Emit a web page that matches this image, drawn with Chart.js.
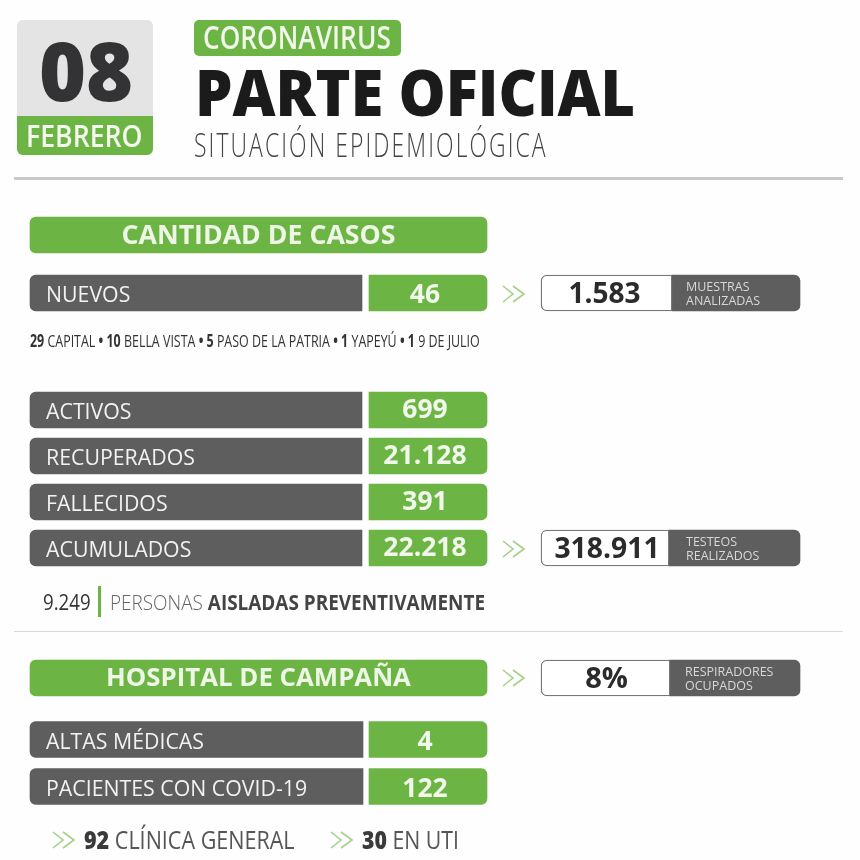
<!DOCTYPE html>
<html>
<head>
<meta charset="utf-8">
<script src="https://cdn.jsdelivr.net/npm/chart.js@4/dist/chart.umd.min.js"></script>
<style>
html,body{margin:0;padding:0;background:#fefefe}
#page{position:relative;width:860px;height:860px;overflow:hidden;font-family:"Open Sans",sans-serif;filter:blur(.45px)}
#page canvas{position:absolute;left:0}
.t{position:absolute;white-space:nowrap;line-height:1;transform-origin:0 50%}
.box{position:absolute}
.rule{position:absolute;left:14px;width:829px}
b{font-weight:700}
svg{position:absolute}
</style>
</head>
<body>
<div id="page">
  <div class="box" style="left:17px;top:20px;width:136px;height:135px;background:#e4e4e4;border-radius:6px"></div>
  <div class="box" style="left:17px;top:116px;width:136px;height:39px;background:#6cb545;border-radius:0 0 6px 6px"></div>
  <div class="box" style="left:194px;top:20px;width:207px;height:36px;background:#6cb545;border-radius:5px"></div>
  <div class="rule" style="top:177px;height:3px;background:#c9c9c9"></div>
  <div class="rule" style="top:631px;height:1px;background:#d8d8d8"></div>
  <div class="box" style="left:98px;top:586px;width:3px;height:31px;background:#6cb545"></div>

  <div class="t" data-w="94" style="left:39px;top:69px;font-size:82px;font-weight:800;color:#333336">08</div>
  <div class="t" data-w="117" style="left:26px;top:135px;font-size:31px;font-weight:600;color:#f4f8ef">FEBRERO</div>
  <div class="t" data-w="188" style="left:203px;top:37px;font-size:32px;font-weight:600;color:#f1f7ea">CORONAVIRUS</div>
  <div class="t" data-w="440" style="left:195px;top:92px;font-size:64px;font-weight:800;color:#1b1b1b">PARTE OFICIAL</div>
  <div class="t" data-w="354" style="left:194px;top:144px;font-size:33px;font-weight:300;color:#444;letter-spacing:3px">SITUACIÓN EPIDEMIOLÓGICA</div>
  <div class="t" data-w="450" style="left:30px;top:340px;font-size:17px;color:#333"><b>29</b> CAPITAL <b>• 10</b> BELLA VISTA <b>• 5</b> PASO DE LA PATRIA <b>• 1</b> YAPEYÚ <b>• 1</b> 9 DE JULIO</div>
  <div class="t" data-w="48" style="left:43px;top:602px;font-size:21px;color:#333">9.249</div>
  <div class="t" data-w="375" style="left:110px;top:602px;font-size:21px;font-weight:300;color:#666">PERSONAS <b style="color:#444">AISLADAS PREVENTIVAMENTE</b></div>
  <div class="t" data-w="211" style="left:84px;top:839px;font-size:25px;color:#555"><b style="color:#3a3a3a;font-weight:800">92</b> CLÍNICA GENERAL</div>
  <div class="t" data-w="97" style="left:362px;top:839px;font-size:25px;color:#555"><b style="color:#3a3a3a;font-weight:800">30</b> EN UTI</div>

  <canvas id="casosHead" style="top:215px"></canvas>
  <canvas id="nuevos" style="top:273px"></canvas>
  <canvas id="stats" style="top:387px"></canvas>
  <canvas id="hospHead" style="top:658px"></canvas>
  <canvas id="hosp" style="top:716px"></canvas>
</div>
<script>
const headLabelCasos = ['CANTIDAD DE CASOS'];
const headLabelHosp = ['HOSPITAL DE CAMPAÑA'];
const newLabels = ['NUEVOS'];
const newValues = ['46'];
const newSide = ['1.583'];
const newCaption = ['MUESTRAS\nANALIZADAS'];
const statLabels = ['ACTIVOS', 'RECUPERADOS', 'FALLECIDOS', 'ACUMULADOS'];
const statValues = ['699', '21.128', '391', '22.218'];
const statSide = ['', '', '', '318.911'];
const statCaption = ['', '', '', 'TESTEOS\nREALIZADOS'];
const hospSide = ['8%'];
const hospCaption = ['RESPIRADORES\nOCUPADOS'];
const hospLabels = ['ALTAS MÉDICAS', 'PACIENTES CON COVID-19'];
const hospValues = ['4', '122'];

// the panels hold no magnitudes, the x scale is just the page width
const GREEN = '#6cb545', GREY = '#5e5e5e';

// fit html text to the measured width of the reference
document.querySelectorAll('.t').forEach(el => {
    const k = el.dataset.w / el.offsetWidth;
    el.style.transform = `translateY(-50%) scaleX(${k})`;
});

// writes each dataset's texts on top of its bars
const barText = {
    id: 'barText',
    afterDatasetsDraw(chart) {
        const ctx = chart.ctx;
        chart.data.datasets.forEach((ds, i) => {
            if (!ds.texts) return;
            chart.getDatasetMeta(i).data.forEach((bar, j) => {
                const txt = ds.texts[j];
                if (!txt) return;
                const lines = txt.split('\n');
                ctx.save();
                ctx.font = ds.font;
                ctx.fillStyle = ds.color;
                ctx.textBaseline = 'middle';
                ctx.textAlign = ds.pad ? 'left' : 'center';
                const x = (ds.pad ? bar.base + ds.pad : (bar.base + bar.x) / 2) + (ds.dx || 0);
                lines.forEach((l, n) => {
                    const y = bar.y + (ds.dy || 0) + (n - (lines.length - 1) / 2) * (ds.lineH || 0);
                    ctx.fillText(l, x, y, ds.maxW);
                });
                ctx.restore();
            });
        });
    }
};

function panel(id, labels, pitch, datasets) {
    const cv = document.getElementById(id);
    cv.width = 860;
    cv.height = labels.length * pitch + (labels.length === 1 ? 4 : 0);
    return new Chart(cv, {
        type: 'bar',
        data: { labels, datasets: datasets.map(d => ({ grouped: false, barThickness: 36, borderSkipped: false, ...d })) },
        options: {
            indexAxis: 'y',
            responsive: false,
            animation: false,
            layout: { padding: 0 },
            plugins: { legend: { display: false }, tooltip: { enabled: false } },
            scales: {
                x: { type: 'linear', min: 0, max: 860, display: false },
                y: { type: 'category', display: false }
            }
        },
        plugins: [barText]
    });
}

const sameCol = (labels, col) => labels.map(() => col);
const ifSide = (side, col) => side.map(s => s ? col : null);

function labelSet(labels, end) {
    return { data: sameCol(labels, [30, end]), backgroundColor: GREY, borderRadius: { topLeft: 6, bottomLeft: 6 },
        texts: labels, font: '400 21.3px "Open Sans"', color: '#f2f2f2', pad: 16, dy: 3 };
}
function valueSet(labels, values, dy) {
    return { data: sameCol(labels, [369, 487]), backgroundColor: GREEN, borderRadius: { topRight: 6, bottomRight: 6 },
        texts: values, font: '700 26.5px "Open Sans"', color: '#f1f7ea', dx: -3, dy };
}
function sideSets(side, caption, split, font, pad, dx) {
    return [
        { data: ifSide(side, [541, split]), backgroundColor: '#fff', borderColor: '#777', borderWidth: 1.3,
          borderRadius: { topLeft: 6, bottomLeft: 6 }, texts: side, font, color: '#2b2b2b', dy: 2, dx },
        { data: ifSide(side, [split, 800]), backgroundColor: GREY, borderRadius: { topRight: 6, bottomRight: 6 },
          texts: caption, font: '400 12.5px "Open Sans"', color: '#d8d8d8', pad, dy: 1, lineH: 14, maxW: 105 }
    ];
}
function headSet(labels, font) {
    return { data: sameCol(labels, [30, 487]), backgroundColor: GREEN, borderRadius: 6,
        texts: labels, font, color: '#eef6e6', dy: 1 };
}

panel('casosHead', headLabelCasos, 36, [headSet(headLabelCasos, '700 26.7px "Open Sans"')]);
panel('nuevos', newLabels, 36, [labelSet(newLabels, 362), valueSet(newLabels, newValues, 2),
    ...sideSets(newSide, newCaption, 672, '700 28px "Open Sans"', 14, -2)]);
panel('stats', statLabels, 46, [labelSet(statLabels, 362), valueSet(statLabels, statValues, 0.5),
    ...sideSets(statSide, statCaption, 669, '700 28.3px "Open Sans"', 17, 2)]);
panel('hospHead', headLabelHosp, 36, [headSet(headLabelHosp, '700 25.8px "Open Sans"'),
    ...sideSets(hospSide, hospCaption, 670, '700 29px "Open Sans"', 15, 1)]);
panel('hosp', hospLabels, 47, [labelSet(hospLabels, 363), valueSet(hospLabels, hospValues, 2.5)]);

// little double chevrons
const page = document.getElementById('page');
[[502, 285], [502, 540], [502, 669], [52, 831], [330, 831]].forEach(([x, y]) => {
    page.insertAdjacentHTML('beforeend', `<svg style="left:${x}px;top:${y}px" width="24" height="18" viewBox="0 0 24 18" fill="none" stroke="#a5d088" stroke-width="1.6"><path d="M1 1l10 8-10 8M11 1l11 8-11 8"/></svg>`);
});
</script>
</body>
</html>
